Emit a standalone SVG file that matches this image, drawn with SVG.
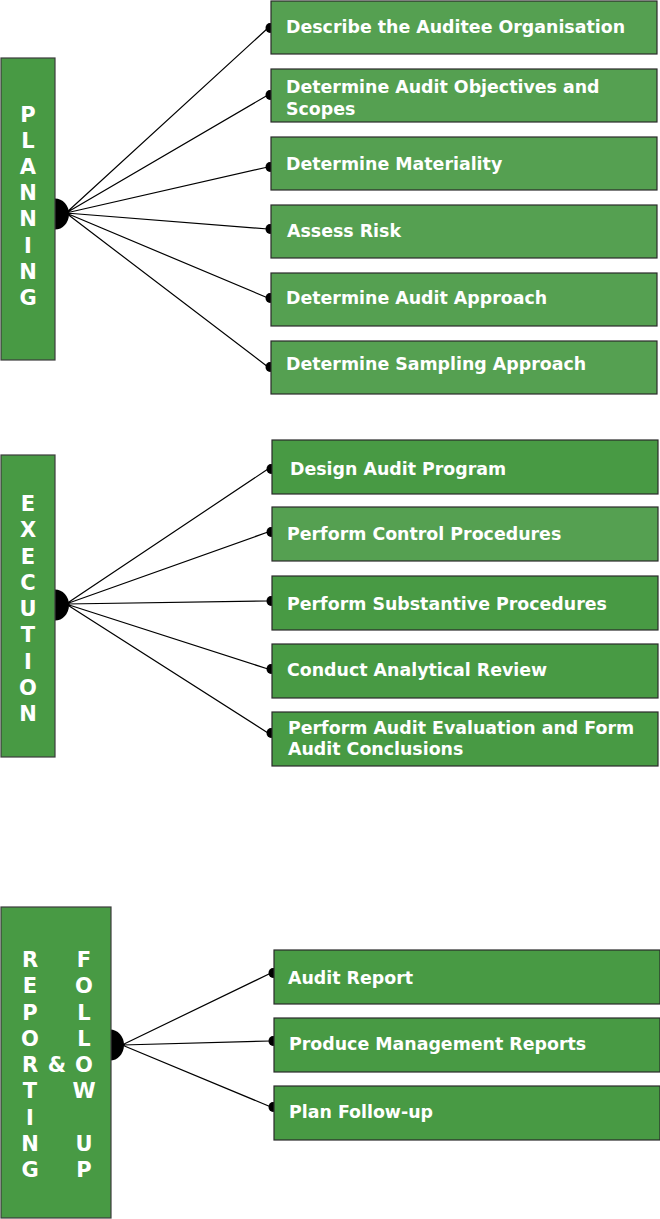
<svg xmlns="http://www.w3.org/2000/svg" width="660" height="1219" viewBox="0 0 660 1219">
<style>
.phase{fill:#489a44;stroke:#3c3c3c;stroke-width:1.2}
.box{fill:#489a44;stroke:#2a2a2a;stroke-width:1.2}
.lt{fill:#55a051}
.t{font-family:"DejaVu Sans",sans-serif;font-weight:bold;font-size:17.4px;fill:#ffffff}
.v{font-family:"DejaVu Sans",sans-serif;font-weight:bold;font-size:21px;fill:#ffffff;text-anchor:middle}
.c{stroke:#000;stroke-width:1.2;fill:none}
.dot{fill:#000}
.hub{fill:#000}
</style>
<g id="connectors">
<path class="c" d="M66,213 L268,28 M66,213 L268,95 M66,213 L268,167 M66,213 L268,229 M66,213 L268,298 M66,213 L268,367"/>
<path class="c" d="M66,604 L268,469 M66,604 L268,532 M66,604 L268,601 M66,604 L268,669 M66,604 L268,733"/>
<path class="c" d="M122,1045 L271,973 M122,1045 L271,1041 M122,1045 L271,1107"/>
<ellipse class="dot" cx="270" cy="28" rx="4.5" ry="5"/>
<ellipse class="dot" cx="270" cy="95" rx="4.5" ry="5"/>
<ellipse class="dot" cx="270" cy="167" rx="4.5" ry="5"/>
<ellipse class="dot" cx="270" cy="229" rx="4.5" ry="5"/>
<ellipse class="dot" cx="270" cy="298" rx="4.5" ry="5"/>
<ellipse class="dot" cx="270" cy="367" rx="4.5" ry="5"/>
<ellipse class="dot" cx="271" cy="469" rx="4.5" ry="5"/>
<ellipse class="dot" cx="271" cy="532" rx="4.5" ry="5"/>
<ellipse class="dot" cx="271" cy="601" rx="4.5" ry="5"/>
<ellipse class="dot" cx="271" cy="669" rx="4.5" ry="5"/>
<ellipse class="dot" cx="271" cy="733" rx="4.5" ry="5"/>
<ellipse class="dot" cx="273" cy="973" rx="4.5" ry="5"/>
<ellipse class="dot" cx="273" cy="1041" rx="4.5" ry="5"/>
<ellipse class="dot" cx="273" cy="1107" rx="4.5" ry="5"/>
<ellipse class="hub" cx="55" cy="214" rx="14" ry="15.5"/>
<ellipse class="hub" cx="55" cy="605" rx="14" ry="15.5"/>
<ellipse class="hub" cx="110" cy="1045" rx="14" ry="15.5"/>
</g>
<g id="planning">
<rect class="phase" x="1" y="58" width="54" height="302"/>
<text class="v" x="28" y="122">P</text>
<text class="v" x="28" y="148">L</text>
<text class="v" x="28" y="174">A</text>
<text class="v" x="28" y="200">N</text>
<text class="v" x="28" y="226">N</text>
<text class="v" x="28" y="253">I</text>
<text class="v" x="28" y="279">N</text>
<text class="v" x="28" y="305">G</text>
</g>
<g id="p1"><rect class="box lt" x="271" y="1" width="386" height="53"/><text class="t" x="286" y="33">Describe the Auditee Organisation</text></g>
<g id="p2"><rect class="box lt" x="271" y="69" width="386" height="53"/><text class="t" x="286" y="93">Determine Audit Objectives and</text><text class="t" x="286" y="115">Scopes</text></g>
<g id="p3"><rect class="box lt" x="271" y="137" width="386" height="53"/><text class="t" x="286" y="170">Determine Materiality</text></g>
<g id="p4"><rect class="box lt" x="271" y="205" width="386" height="53"/><text class="t" x="287" y="237">Assess Risk</text></g>
<g id="p5"><rect class="box lt" x="271" y="273" width="386" height="53"/><text class="t" x="286" y="304">Determine Audit Approach</text></g>
<g id="p6"><rect class="box lt" x="271" y="341" width="386" height="53"/><text class="t" x="286" y="370">Determine Sampling Approach</text></g>
<g id="execution">
<rect class="phase" x="1" y="455" width="54" height="302"/>
<text class="v" x="28" y="511">E</text>
<text class="v" x="28" y="537">X</text>
<text class="v" x="28" y="564">E</text>
<text class="v" x="28" y="590">C</text>
<text class="v" x="28" y="616">U</text>
<text class="v" x="28" y="642">T</text>
<text class="v" x="28" y="669">I</text>
<text class="v" x="28" y="695">O</text>
<text class="v" x="28" y="721">N</text>
</g>
<g id="e1"><rect class="box" x="272" y="440" width="386" height="54"/><text class="t" x="290" y="475">Design Audit Program</text></g>
<g id="e2"><rect class="box lt" x="272" y="507" width="386" height="54"/><text class="t" x="287" y="540">Perform Control Procedures</text></g>
<g id="e3"><rect class="box" x="272" y="576" width="386" height="54"/><text class="t" x="287" y="610">Perform Substantive Procedures</text></g>
<g id="e4"><rect class="box" x="272" y="644" width="386" height="54"/><text class="t" x="287" y="676">Conduct Analytical Review</text></g>
<g id="e5"><rect class="box" x="272" y="712" width="386" height="54"/><text class="t" x="288" y="734">Perform Audit Evaluation and Form</text><text class="t" x="288" y="755">Audit Conclusions</text></g>
<g id="reporting">
<rect class="phase" x="1" y="907" width="110" height="311"/>
<text class="v" x="30" y="967">R</text>
<text class="v" x="30" y="993">E</text>
<text class="v" x="30" y="1020">P</text>
<text class="v" x="30" y="1046">O</text>
<text class="v" x="30" y="1072">R</text>
<text class="v" x="30" y="1098">T</text>
<text class="v" x="30" y="1125">I</text>
<text class="v" x="30" y="1151">N</text>
<text class="v" x="30" y="1177">G</text>
<text class="v" x="57" y="1072">&amp;</text>
<text class="v" x="84" y="967">F</text>
<text class="v" x="84" y="993">O</text>
<text class="v" x="84" y="1020">L</text>
<text class="v" x="84" y="1046">L</text>
<text class="v" x="84" y="1072">O</text>
<text class="v" x="84" y="1098">W</text>
<text class="v" x="84" y="1151">U</text>
<text class="v" x="84" y="1177">P</text>
</g>
<g id="r1"><rect class="box" x="274" y="950" width="386" height="54"/><text class="t" x="288" y="984">Audit Report</text></g>
<g id="r2"><rect class="box" x="274" y="1018" width="386" height="54"/><text class="t" x="289" y="1050">Produce Management Reports</text></g>
<g id="r3"><rect class="box" x="274" y="1086" width="386" height="54"/><text class="t" x="289" y="1118">Plan Follow-up</text></g>
</svg>
